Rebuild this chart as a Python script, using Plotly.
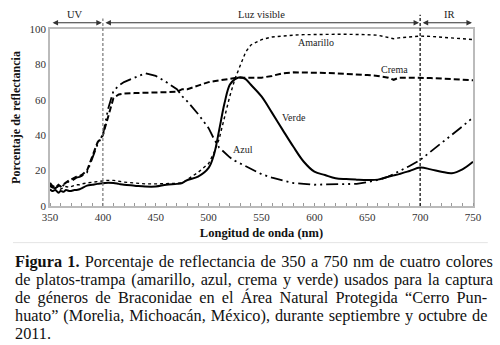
import plotly.graph_objects as go

# ---- data ----
wl_uv = [350, 352, 355, 358, 360, 363, 365, 368, 370, 373, 375, 378, 380, 385, 390, 395, 400, 405, 410, 415, 420]
crema_uv = [13, 11.5, 10.5, 12, 11, 12.5, 13, 14.5, 15, 16, 16.5, 17, 17.5, 20, 28, 36, 40, 50, 61, 63, 63.5]
azul_uv = [12, 10.5, 10, 11.5, 10.5, 12, 13, 14, 14, 15, 16, 16.5, 17, 19, 27, 35, 40, 55, 65, 68, 70]
verde_uv = [9.5, 8.5, 9, 7.5, 8.5, 8, 9, 8.5, 8.5, 9, 9, 9.5, 10, 11.5, 12, 12.5, 12.8, 13.2, 13, 12.5, 12]
amarillo_uv = [11, 10.5, 10, 11, 9.5, 10.5, 11, 10.5, 11, 11.5, 12, 12, 12.5, 13, 13.5, 14, 14.2, 14.5, 14.5, 14, 13.5]

wl_vis = [430, 440, 450, 460, 470, 475, 480, 490, 500, 505, 510, 515, 520, 525, 530, 535, 540, 550, 560, 570,
          580, 590, 600, 610, 620, 630, 640, 650, 660, 670, 675, 680, 690, 700, 710, 720, 730, 740, 750]
crema_vis = [63.8, 64, 64, 64, 64.5, 66, 66, 68, 70, 70.5, 71, 71.5, 72, 72.3, 72.5, 72.5, 72.5, 72.5, 73.5, 75,
             75.5, 75.5, 75.3, 75.2, 75, 74.8, 74.5, 74, 73.5, 72.5, 71.3, 72.5, 72.5, 72.5, 72.3, 72, 71.6, 71.3, 71]
azul_vis = [72.5, 75, 73.5, 70, 66, 62, 59, 52, 44, 38, 33, 30, 27.5, 25.5, 24, 22.5, 21, 18, 16, 14.5,
            13, 12.5, 12, 12.2, 12.3, 12.4, 12.5, 13.5, 14.7, 16.6, 18, 19.4, 22.6, 26, 30.7, 35.5, 40, 45, 50]
verde_vis = [11.5, 11, 11, 12, 12.5, 13, 14.7, 16.6, 21.5, 28.9, 43, 58, 68.5, 71.7, 72.8, 71.7, 68.5, 61.9, 52.6, 43,
             33.6, 25, 19.4, 17.5, 15.7, 15.2, 14.9, 14.7, 14.9, 16.6, 17.3, 18, 19.8, 21.7, 20.7, 19.4, 18.5, 20.7, 25]
amarillo_vis = [13, 12.5, 12.5, 12.5, 12.8, 13, 15, 19, 24, 30, 38, 50, 62, 72, 80, 87, 91, 94, 95.5, 96.2,
                96.5, 96.8, 97, 97, 97, 97, 97, 96.8, 96.5, 95, 94.5, 95, 95.5, 96, 95.8, 95.5, 95, 94.5, 94]

wavelength = wl_uv + wl_vis
amarillo = amarillo_uv + amarillo_vis
azul = azul_uv + azul_vis
crema = crema_uv + crema_vis
verde = verde_uv + verde_vis

x_ticks = [350, 400, 450, 500, 550, 600, 650, 700, 750]
y_ticks = [0, 20, 40, 60, 80, 100]

caption_lines = [
    "<b>Figura 1.</b> Porcentaje de reflectancia de 350 a 750 nm de cuatro colores",
    "de platos-trampa (amarillo, azul, crema y verde) usados para la captura",
    "de géneros de Braconidae en el Área Natural Protegida “Cerro Pun-",
    "huato” (Morelia, Michoacán, México), durante septiembre y octubre de",
    "2011.",
]
caption_word_spacing = [1.2, 1.6, 3.1, 0.9, 0]

SERIF = "Liberation Serif"

fig = go.Figure()
fig.add_trace(go.Scatter(x=wavelength, y=amarillo, mode="lines", name="Amarillo",
                         line=dict(color="black", width=1.4, dash="dot")))
fig.add_trace(go.Scatter(x=wavelength, y=crema, mode="lines", name="Crema",
                         line=dict(color="black", width=2, dash="6px,3px")))
fig.add_trace(go.Scatter(x=wavelength, y=azul, mode="lines", name="Azul",
                         line=dict(color="black", width=1.8, dash="12px,4px,2px,4px,2px,4px")))
fig.add_trace(go.Scatter(x=wavelength, y=verde, mode="lines", name="Verde",
                         line=dict(color="black", width=2, shape="spline")))

# vertical separators
fig.add_shape(type="line", xref="x", yref="y domain", x0=400, x1=400, y0=0, y1=1.06,
              line=dict(color="#777777", width=1.2, dash="3px,2px"))
fig.add_shape(type="line", xref="x", yref="y domain", x0=700, x1=700, y0=0, y1=1.08,
              line=dict(color="black", width=1.2, dash="3px,2px"))

# region arrows
for a, b in [(351, 399), (401, 699), (701, 749)]:
    fig.add_annotation(xref="x", yref="y domain", axref="x", ayref="y domain",
                       x=b, y=1.035, ax=a, ay=1.035, text="", showarrow=True,
                       arrowhead=2, arrowside="end+start", arrowsize=1, arrowwidth=1.1,
                       arrowcolor="#333333")
for xt, t in [(374, "UV"), (550, "Luz visible"), (728, "IR")]:
    fig.add_annotation(xref="x", yref="y domain", x=xt, y=1.04, text=t, showarrow=False,
                       yanchor="bottom", font=dict(family=SERIF, size=10.5, color="#222222"))

# series labels
for xt, yt, t in [(602, 92.2, "Amarillo"), (676, 77, "Crema"), (581, 49.8, "Verde"), (532.5, 31.7, "Azul")]:
    fig.add_annotation(xref="x", yref="y", x=xt, y=yt, text=t, showarrow=False,
                       font=dict(family=SERIF, size=10, color="#222222"))

# caption separator
fig.add_shape(type="line", xref="paper", yref="paper", x0=-0.0875, x1=1.035, y0=-0.207, y1=-0.207,
              line=dict(color="#e4e4e4", width=1))

# caption lines
cap_y = [261, 279, 297, 315, 333]
for txt, ws, py in zip(caption_lines, caption_word_spacing, cap_y):
    fig.add_annotation(xref="paper", yref="paper", x=(13 - 50) / 423.0, y=(206 - py) / 177.0,
                       text=f'<span style="word-spacing:{ws}px">{txt}</span>', showarrow=False,
                       xanchor="left", yanchor="middle",
                       font=dict(family=SERIF, size=16.3, color="#111111"))

fig.update_layout(
    width=500, height=345,
    margin=dict(l=50, r=27, t=29, b=139),
    paper_bgcolor="white", plot_bgcolor="white",
    showlegend=False,
    font=dict(family=SERIF, size=10, color="#333333"),
)
fig.update_xaxes(range=[350, 750], tickvals=x_ticks, showgrid=False, zeroline=False,
                 showline=True, linecolor="#bbbbbb", linewidth=1.5, mirror=True,
                 ticks="", minor=dict(dtick=10, ticks="inside", ticklen=3, tickcolor="#999999"),
                 title=dict(text="<b>Longitud de onda (nm)</b>", font=dict(family=SERIF, size=12.5, color="#111111"), standoff=6),
                 tickfont=dict(family=SERIF, size=11, color="#333333"))
fig.update_yaxes(range=[0, 100], tickvals=y_ticks, showgrid=False, zeroline=False,
                 showline=True, linecolor="#bbbbbb", linewidth=1.5, mirror=True, ticks="",
                 title=dict(text="<b>Porcentaje de reflectancia</b>", font=dict(family=SERIF, size=12, color="#111111"), standoff=6),
                 tickfont=dict(family=SERIF, size=11, color="#333333"))

fig.write_html("out.html", config={"displayModeBar": False},
               post_script="document.body.style.margin='0';document.body.style.padding='0';")
